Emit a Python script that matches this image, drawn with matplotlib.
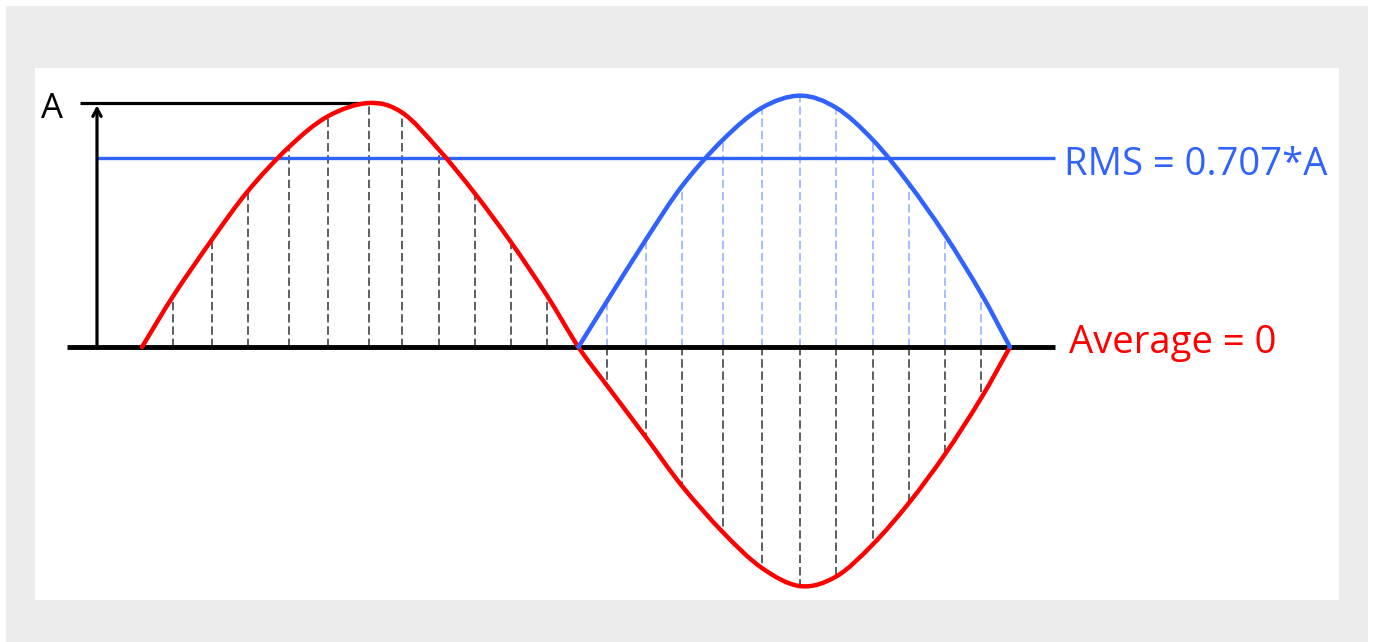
import matplotlib
matplotlib.use("Agg")
import matplotlib.pyplot as plt
import numpy as np
from matplotlib.path import Path
from matplotlib.patches import PathPatch, Rectangle

# phase in degrees, values in units of the amplitude A
pos_phase = [0, 13, 29, 44, 61, 77, 94, 108, 123, 138, 153, 168, 181]
pos_value = [0, 0.21, 0.44, 0.64, 0.82, 0.945, 1.00, 0.96, 0.81, 0.63, 0.43, 0.21, 0]

neg_phase = [181, 193, 209, 224, 241, 257, 273, 288, 303, 318, 333, 348, 360]
neg_value = [0, -0.16, -0.37, -0.57, -0.76, -0.905, -0.98, -0.94, -0.81, -0.64, -0.44, -0.21, 0]
rect_value = [0, 0.19, 0.44, 0.66, 0.85, 0.98, 1.03, 0.98, 0.85, 0.67, 0.46, 0.22, 0]

amplitude = 1.0
rms_level = 0.775          # where the RMS line sits in the drawing
rms_label = "RMS = 0.707*A"
avg_label = "Average = 0"
amp_label = "A"

RED = "#ff0000"
BLUE = "#2f62ff"
LIGHT_BLUE = "#8eabff"


def smooth_path(xs, ys):
    # catmull-rom through the read points, handed to matplotlib as bezier segments
    pts = np.column_stack([xs, ys]).astype(float)
    ext = np.vstack([2 * pts[0] - pts[1], pts, 2 * pts[-1] - pts[-2]])
    verts = [pts[0]]
    codes = [Path.MOVETO]
    for i in range(1, len(ext) - 2):
        p0, p1, p2, p3 = ext[i - 1], ext[i], ext[i + 1], ext[i + 2]
        verts += [p1 + (p2 - p0) / 6, p2 - (p3 - p1) / 6, p2]
        codes += [Path.CURVE4] * 3
    return Path(verts, codes)


W, H = 1375, 642
fig = plt.figure(figsize=(W / 100, H / 100), dpi=100)
fig.patch.set_facecolor("white")
fig.patches.append(Rectangle((6 / W, 0), 1362 / W, 636 / H, transform=fig.transFigure,
                             facecolor="#ececec", edgecolor="none", zorder=-10))
fig.patches.append(Rectangle((35 / W, 42 / H), 1304 / W, 532 / H, transform=fig.transFigure,
                             facecolor="white", edgecolor="none", zorder=-9))

ax = fig.add_axes([0, 0, 1, 1])
ax.set_facecolor("none")
ax.axis("off")
# 0 deg at x=142px, 360 deg at x=1010px ; 0 at y=347px, A at y=103px
pxdeg = 868 / 360
ax.set_xlim(-142 / pxdeg, (W - 142) / pxdeg)
ax.set_ylim(-(H - 347) / 244, 347 / 244)

def px(x):
    return (x - 142) / pxdeg

def py(y):
    return (347 - y) / 244

# dashed sample lines
dash = (0, (5.5, 2.5))
ax.vlines(pos_phase[1:-1], 0, pos_value[1:-1], colors="#333333", lw=1.1,
          linestyles=dash, zorder=2)
ax.vlines(neg_phase[1:-1], 0, neg_value[1:-1], colors="#333333", lw=1.1,
          linestyles=dash, zorder=2)
ax.vlines(neg_phase[1:-1], 0, rect_value[1:-1], colors=LIGHT_BLUE, lw=1.1,
          linestyles=dash, zorder=2)

# reference lines
ax.plot([px(67), px(1055)], [0, 0], color="black", lw=3.5, solid_capstyle="butt", zorder=3)
ax.plot([px(80), pos_phase[6]], [amplitude, amplitude], color="black", lw=2.3,
        solid_capstyle="butt", zorder=3)
ax.plot([px(97), px(1055)], [rms_level, rms_level], color=BLUE, lw=2.4,
        solid_capstyle="butt", zorder=3)
ax.annotate("", xy=(px(97), amplitude - 0.01), xytext=(px(97), 0),
            arrowprops=dict(arrowstyle="->,head_length=0.55,head_width=0.3",
                            color="black", lw=2.3, shrinkA=0, shrinkB=0), zorder=3)

# waveforms
red_x = pos_phase + neg_phase[1:]
red_y = pos_value + neg_value[1:]
ax.add_patch(PathPatch(smooth_path(red_x, red_y), facecolor="none", edgecolor=RED,
                       lw=3.2, zorder=4, capstyle="round"))
ax.add_patch(PathPatch(smooth_path(neg_phase, rect_value), facecolor="none", edgecolor=BLUE,
                       lw=3.2, zorder=5, capstyle="round"))

# labels
font = ["Open Sans", "DejaVu Sans"]
ax.text(px(41), py(118), amp_label, color="black", fontsize=25, family=font,
        ha="left", va="baseline")
ax.text(px(1064), py(175), rms_label, color=BLUE, fontsize=27.5, family=font,
        ha="left", va="baseline")
ax.text(px(1069), py(353), avg_label, color=RED, fontsize=27.5, family=font,
        ha="left", va="baseline")

fig.savefig("out.png", dpi=100, facecolor=fig.get_facecolor())
